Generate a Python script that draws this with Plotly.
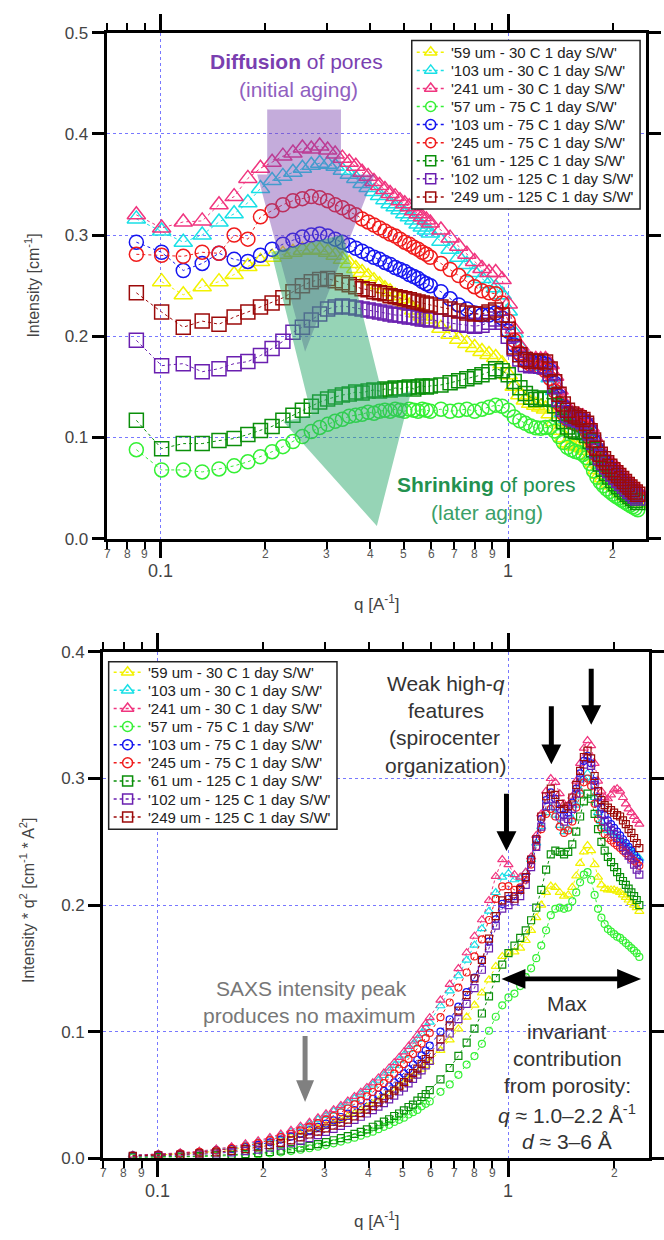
import numpy as np
import plotly.graph_objects as go

W, H = 664, 1240

# ---- scattering vector grids [1/A] ----
q_low = [0.085, 0.1005, 0.116, 0.1315, 0.147, 0.1625, 0.178, 0.1935, 0.209, 0.2245,
         0.240, 0.2555, 0.271, 0.2865, 0.302, 0.3175, 0.333, 0.3485, 0.364, 0.3795,
         0.395, 0.4105, 0.426, 0.4415, 0.457, 0.4725, 0.488, 0.5035, 0.519, 0.5345,
         0.550, 0.5655, 0.581, 0.5965, 0.64, 0.68, 0.72, 0.76, 0.80, 0.84, 0.88, 0.92, 0.96]
q_high = [1.00, 1.04, 1.08, 1.12, 1.16, 1.20, 1.24, 1.28, 1.32, 1.36, 1.40, 1.44, 1.48,
          1.52, 1.56, 1.60, 1.64, 1.68, 1.72, 1.76, 1.80, 1.84, 1.88, 1.92, 1.96, 2.00,
          2.04, 2.08, 2.12, 2.16, 2.20, 2.24, 2.28, 2.32, 2.36]

# ---- intensity I(q) [1/cm] for q < 1 ----
i_59um_30c = [None, 0.254, 0.241, 0.249, 0.254, 0.261, 0.269, 0.274, 0.278, 0.281,
              0.283, 0.285, 0.286, 0.285, 0.283, 0.280, 0.276, 0.272, 0.267, 0.263,
              0.259, 0.255, 0.251, 0.247, 0.244, 0.240, 0.237, 0.233, 0.230, 0.226,
              0.223, 0.220, 0.217, 0.214, 0.208, 0.202, 0.197, 0.193, 0.189, 0.185, 0.182, 0.179, 0.173]
i_103um_30c = [0.316, 0.304, 0.293, 0.300, 0.313, 0.321, 0.332, 0.346, 0.354, 0.358,
               0.362, 0.366, 0.369, 0.371, 0.370, 0.368, 0.364, 0.360, 0.356, 0.351,
               0.347, 0.343, 0.339, 0.335, 0.331, 0.328, 0.325, 0.321, 0.318, 0.315,
               0.311, 0.308, 0.305, 0.302, 0.294, 0.286, 0.278, 0.271, 0.263, 0.257, 0.252, 0.248, 0.241]
i_241um_30c = [0.320, 0.307, 0.313, 0.314, 0.330, 0.338, 0.356, 0.366, 0.372, 0.378,
               0.381, 0.386, 0.385, 0.388, 0.384, 0.380, 0.376, 0.372, 0.368, 0.362,
               0.358, 0.353, 0.349, 0.345, 0.341, 0.338, 0.334, 0.331, 0.328, 0.324,
               0.321, 0.318, 0.315, 0.312, 0.305, 0.297, 0.289, 0.281, 0.274, 0.267, 0.263, 0.263, 0.256]
i_57um_75c = [0.088, 0.068, 0.068, 0.066, 0.069, 0.072, 0.076, 0.081, 0.086, 0.091,
              0.096, 0.101, 0.106, 0.110, 0.113, 0.116, 0.118, 0.121, 0.122, 0.123,
              0.125, 0.124, 0.126, 0.127, 0.126, 0.128, 0.127, 0.126, 0.128, 0.127,
              0.126, 0.128, 0.127, 0.126, 0.128, 0.126, 0.127, 0.128, 0.126, 0.128, 0.130, 0.132, 0.131]
i_103um_75c = [0.293, 0.283, 0.265, 0.272, 0.282, 0.276, 0.274, 0.280, 0.286, 0.291,
               0.295, 0.298, 0.300, 0.301, 0.299, 0.296, 0.293, 0.290, 0.287, 0.284,
               0.281, 0.278, 0.276, 0.273, 0.271, 0.268, 0.266, 0.264, 0.261, 0.259,
               0.257, 0.254, 0.252, 0.250, 0.244, 0.237, 0.231, 0.227, 0.223, 0.221, 0.221, 0.223, 0.218]
i_245um_75c = [0.281, 0.280, 0.279, 0.283, 0.282, 0.300, 0.296, 0.318, 0.324, 0.330,
               0.334, 0.336, 0.338, 0.337, 0.334, 0.330, 0.327, 0.323, 0.320, 0.316,
               0.313, 0.310, 0.307, 0.304, 0.301, 0.299, 0.296, 0.293, 0.291, 0.288,
               0.286, 0.283, 0.281, 0.278, 0.272, 0.266, 0.260, 0.254, 0.249, 0.245, 0.243, 0.242, 0.233]
i_61um_125c = [0.117, 0.089, 0.094, 0.094, 0.097, 0.099, 0.103, 0.107, 0.111, 0.117,
               0.122, 0.127, 0.131, 0.135, 0.138, 0.140, 0.142, 0.143, 0.145, 0.144,
               0.146, 0.147, 0.146, 0.148, 0.147, 0.149, 0.148, 0.149, 0.150, 0.148,
               0.150, 0.151, 0.150, 0.151, 0.152, 0.154, 0.156, 0.158, 0.160, 0.162, 0.165, 0.168, 0.166]
i_102um_125c = [0.196, 0.171, 0.173, 0.165, 0.168, 0.173, 0.175, 0.181, 0.188, 0.195,
                0.204, 0.209, 0.216, 0.222, 0.227, 0.229, 0.230, 0.229, 0.228, 0.227,
                0.226, 0.225, 0.224, 0.223, 0.222, 0.221, 0.221, 0.220, 0.219, 0.219,
                0.218, 0.217, 0.217, 0.216, 0.215, 0.213, 0.212, 0.211, 0.210, 0.211, 0.214, 0.217, 0.214]
i_249um_125c = [0.243, 0.224, 0.209, 0.215, 0.212, 0.219, 0.224, 0.229, 0.233, 0.238,
                0.244, 0.250, 0.254, 0.256, 0.257, 0.255, 0.253, 0.251, 0.249, 0.247,
                0.246, 0.244, 0.243, 0.242, 0.240, 0.239, 0.238, 0.237, 0.236, 0.235,
                0.234, 0.233, 0.232, 0.231, 0.229, 0.227, 0.225, 0.223, 0.222, 0.222, 0.224, 0.226, 0.221]

# ---- Kratky values I*q^2 [1/cm * 1/A^2] for q >= 1 ----
k_59um_30c = [0.162, 0.163, 0.166, 0.172, 0.180, 0.190, 0.200, 0.210, 0.215, 0.214, 0.210, 0.207,
              0.208, 0.214, 0.223, 0.233, 0.242, 0.247, 0.243, 0.232, 0.222, 0.216, 0.213, 0.212,
              0.212, 0.212, 0.211, 0.210, 0.208, 0.206, 0.204, 0.202, 0.200, 0.198, 0.195]
k_103um_30c = [0.225, 0.220, 0.221, 0.226, 0.236, 0.249, 0.262, 0.273, 0.277, 0.271, 0.263, 0.258,
               0.260, 0.268, 0.279, 0.290, 0.300, 0.304, 0.298, 0.285, 0.273, 0.266, 0.262, 0.259,
               0.257, 0.255, 0.253, 0.251, 0.249, 0.247, 0.245, 0.243, 0.241, 0.239, 0.237]
k_241um_30c = [0.232, 0.224, 0.222, 0.226, 0.238, 0.255, 0.272, 0.290, 0.300, 0.297, 0.288, 0.280,
               0.279, 0.286, 0.298, 0.312, 0.324, 0.330, 0.326, 0.312, 0.298, 0.290, 0.285, 0.284,
               0.287, 0.291, 0.292, 0.290, 0.285, 0.280, 0.276, 0.273, 0.270, 0.267, 0.264]
k_57um_75c = [0.127, 0.130, 0.136, 0.143, 0.150, 0.158, 0.168, 0.180, 0.192, 0.197, 0.198, 0.197,
              0.198, 0.203, 0.210, 0.218, 0.224, 0.226, 0.220, 0.208, 0.197, 0.190, 0.185, 0.181,
              0.179, 0.177, 0.175, 0.174, 0.172, 0.170, 0.168, 0.166, 0.164, 0.162, 0.159]
k_103um_75c = [0.205, 0.207, 0.213, 0.222, 0.236, 0.252, 0.268, 0.283, 0.289, 0.284, 0.276, 0.271,
               0.273, 0.281, 0.292, 0.304, 0.314, 0.318, 0.312, 0.298, 0.285, 0.277, 0.271, 0.267,
               0.264, 0.261, 0.258, 0.255, 0.252, 0.249, 0.246, 0.243, 0.240, 0.237, 0.234]
k_245um_75c = [0.215, 0.212, 0.214, 0.220, 0.232, 0.246, 0.260, 0.272, 0.276, 0.270, 0.262, 0.257,
               0.259, 0.266, 0.277, 0.288, 0.297, 0.300, 0.294, 0.280, 0.268, 0.261, 0.256, 0.253,
               0.251, 0.249, 0.247, 0.245, 0.243, 0.241, 0.239, 0.237, 0.235, 0.233, 0.231]
k_61um_125c = [0.162, 0.168, 0.174, 0.180, 0.188, 0.198, 0.212, 0.228, 0.240, 0.243, 0.242, 0.240,
               0.242, 0.248, 0.258, 0.270, 0.282, 0.288, 0.284, 0.272, 0.260, 0.250, 0.243, 0.238,
               0.234, 0.230, 0.226, 0.222, 0.219, 0.216, 0.213, 0.210, 0.207, 0.204, 0.200]
k_102um_125c = [0.200, 0.203, 0.207, 0.216, 0.230, 0.246, 0.262, 0.278, 0.284, 0.278, 0.270, 0.266,
                0.268, 0.276, 0.288, 0.300, 0.311, 0.316, 0.310, 0.295, 0.281, 0.272, 0.266, 0.262,
                0.259, 0.256, 0.253, 0.250, 0.246, 0.243, 0.239, 0.236, 0.232, 0.228, 0.224]
k_249um_125c = [0.207, 0.205, 0.212, 0.222, 0.236, 0.252, 0.270, 0.286, 0.292, 0.287, 0.280, 0.276,
                0.278, 0.285, 0.295, 0.306, 0.317, 0.322, 0.316, 0.302, 0.290, 0.283, 0.279, 0.277,
                0.275, 0.273, 0.271, 0.270, 0.267, 0.264, 0.260, 0.257, 0.253, 0.249, 0.245]

sample_names = ["'59 um - 30 C 1 day S/W'", "'103 um - 30 C 1 day S/W'", "'241 um - 30 C 1 day S/W'",
                "'57 um - 75 C 1 day S/W'", "'103 um - 75 C 1 day S/W'", "'245 um - 75 C 1 day S/W'",
                "'61 um - 125 C 1 day S/W'", "'102 um - 125 C 1 day S/W'", "'249 um - 125 C 1 day S/W'"]
low_sets = [i_59um_30c, i_103um_30c, i_241um_30c, i_57um_75c, i_103um_75c, i_245um_75c,
            i_61um_125c, i_102um_125c, i_249um_125c]
high_sets = [k_59um_30c, k_103um_30c, k_241um_30c, k_57um_75c, k_103um_75c, k_245um_75c,
             k_61um_125c, k_102um_125c, k_249um_125c]

x_major = [0.1, 1]
x_major_labels = ["0.1", "1"]
x_minor = [0.07, 0.08, 0.09, 0.2, 0.3, 0.4, 0.5, 0.6, 0.7, 0.8, 0.9, 2]
x_minor_labels = ["7", "8", "9", "2", "3", "4", "5", "6", "7", "8", "9", "2"]

colors = ["#f2f200", "#19e0e6", "#f0357f", "#35f035", "#1515f0", "#f01c1c",
          "#0a8f0a", "#6a1fb0", "#9c0a0a"]
symbols = ["triangle-up-open"] * 3 + ["circle-open"] * 3 + ["square-open"] * 3

FONT = "Liberation Sans, Arial, sans-serif"

q_all = np.array(q_low + q_high)
qh = np.array(q_high)

fig = go.Figure()
for name, lo, hi, col, sym in zip(sample_names, low_sets, high_sets, colors, symbols):
    assert len(lo) == len(q_low) and len(hi) == len(q_high)
    lo_arr = np.array([np.nan if v is None else v for v in lo], dtype=float)
    intensity = np.concatenate([lo_arr, np.array(hi) / qh ** 2])
    kratky = intensity * q_all ** 2
    big = 16 if sym.startswith("triangle") else 14
    small = 8 if sym.startswith("triangle") else 7
    fig.add_trace(go.Scatter(
        x=q_all, y=intensity, mode="lines+markers", name=name, showlegend=False,
        line=dict(color=col, width=1, dash="dot"),
        marker=dict(symbol=sym, size=big, color=col, line=dict(width=1.5, color=col)),
        xaxis="x", yaxis="y"))
    fig.add_trace(go.Scatter(
        x=q_all, y=kratky, mode="lines+markers", name=name, showlegend=False,
        line=dict(color=col, width=1, dash="dot"),
        marker=dict(symbol=sym, size=small, color=col, line=dict(width=1.2, color=col)),
        xaxis="x2", yaxis="y2"))


def px(x):
    return x / W


def py(y):
    return 1 - y / H


def poly(points):
    return "M " + " L ".join(f"{px(a):.5f},{py(b):.5f}" for a, b in points) + " Z"


def down_arrow(x, y0, y1, shaft=5, hw=20, hl=20):
    return poly([(x - shaft / 2, y0), (x + shaft / 2, y0), (x + shaft / 2, y1 - hl),
                 (x + hw / 2, y1 - hl), (x, y1), (x - hw / 2, y1 - hl), (x - shaft / 2, y1 - hl)])


def double_arrow(x0, x1, y, shaft=5, hw=20, hl=24):
    return poly([(x0, y), (x0 + hl, y - hw / 2), (x0 + hl, y - shaft / 2), (x1 - hl, y - shaft / 2),
                 (x1 - hl, y - hw / 2), (x1, y), (x1 - hl, y + hw / 2), (x1 - hl, y + shaft / 2),
                 (x0 + hl, y + shaft / 2), (x0 + hl, y + hw / 2)])


shapes = []
ann = []

# translucent guide arrows on the upper panel
shapes.append(dict(type="path", xref="paper", yref="paper", layer="above", line=dict(width=0),
                   fillcolor="rgba(125,70,175,0.45)",
                   path=poly([(268, 102), (342, 102), (342, 168), (376, 168), (306, 348),
                              (258, 168), (268, 168)])))
tip = np.array([378.0, 525.0])
start = np.array([308.0, 238.0])
u = (tip - start) / np.linalg.norm(tip - start)
n = np.array([u[1], -u[0]])
base = tip - 125 * u
g_pts = [start - 37 * n, start + 37 * n, base + 37 * n, base + 66 * n, tip, base - 66 * n, base - 37 * n]
shapes.append(dict(type="path", xref="paper", yref="paper", layer="above", line=dict(width=0),
                   fillcolor="rgba(45,170,110,0.5)", path=poly([tuple(p) for p in g_pts])))
# black markers of the high-q features on the lower panel
for ax_x, a0, a1 in [(508, 797, 855), (553, 708, 767), (593, 670, 727)]:
    shapes.append(dict(type="path", xref="paper", yref="paper", layer="above", line=dict(width=0),
                       fillcolor="black", path=down_arrow(ax_x, a0, a1)))
shapes.append(dict(type="path", xref="paper", yref="paper", layer="above", line=dict(width=0),
                   fillcolor="#808080", path=down_arrow(306, 1043, 1110, shaft=5, hw=18, hl=22)))
shapes.append(dict(type="path", xref="paper", yref="paper", layer="above", line=dict(width=0),
                   fillcolor="black", path=double_arrow(503, 643, 985)))


# ---- legends: boxed key with dotted sample line, symbol and label ----
def legend_block(left, top, right, bottom, first_row, step):
    shapes.append(dict(type="rect", xref="x3", yref="y3", layer="below", x0=left, x1=right,
                       y0=top, y1=bottom, fillcolor="white", line=dict(color="#222222", width=1.5)))
    for i, (name, col, sym) in enumerate(zip(sample_names, colors, symbols)):
        yc = first_row + i * step
        shapes.append(dict(type="line", xref="paper", yref="paper", layer="above",
                           x0=px(left + 5), x1=px(left + 34), y0=py(yc), y1=py(yc),
                           line=dict(color=col, width=1.5, dash="dot")))
        fig.add_trace(go.Scatter(x=[left + 19], y=[yc], mode="markers", showlegend=False,
                                 marker=dict(symbol=sym, size=11 if sym.startswith("tri") else 10,
                                             color=col, line=dict(width=1.5, color=col)),
                                 xaxis="x3", yaxis="y3", hoverinfo="skip"))
        ann.append(dict(xref="paper", yref="paper", x=px(left + 37), y=py(yc), text=name,
                        showarrow=False, xanchor="left", yanchor="middle",
                        font=dict(family=FONT, size=15, color="#222222")))


legend_block(413, 32, 642, 203, 44, 18.35)
legend_block(109, 663, 338, 833, 673.5, 18.4)


def text(x, y, s, size=21, color="#333333", anchor="center"):
    ann.append(dict(xref="paper", yref="paper", x=px(x), y=py(y), text=s, showarrow=False,
                    xanchor=anchor, yanchor="middle", font=dict(family=FONT, size=size, color=color)))


# axis tick labels (major and minor) for both panels
for xa, axis_y in [("x", 538), ("x2", 1167)]:
    for v, lab in zip(x_minor, x_minor_labels):
        ann.append(dict(xref=xa, yref="paper", x=np.log10(v), y=py(axis_y + 15), text=lab,
                        showarrow=False, xanchor="center", yanchor="middle",
                        font=dict(family=FONT, size=12, color="#555555")))
    for v, lab in zip(x_major, x_major_labels):
        ann.append(dict(xref=xa, yref="paper", x=np.log10(v), y=py(axis_y + 33), text=lab,
                        showarrow=False, xanchor="center", yanchor="middle",
                        font=dict(family=FONT, size=18, color="#444444")))

text(378, 603, "q [A<sup>-1</sup>]", 17, "#444444")
text(378, 1230, "q [A<sup>-1</sup>]", 17, "#444444")
ann.append(dict(xref="paper", yref="paper", x=px(32), y=py(281), text="Intensity [cm<sup>-1</sup>]",
                textangle=-90, showarrow=False, xanchor="center", yanchor="middle",
                font=dict(family=FONT, size=16, color="#444444")))
ann.append(dict(xref="paper", yref="paper", x=px(27), y=py(905),
                text="Intensity * q<sup>2</sup> [cm<sup>-1</sup> * A<sup>2</sup>]",
                textangle=-90, showarrow=False, xanchor="center", yanchor="middle",
                font=dict(family=FONT, size=16, color="#444444")))

text(297, 53, "<b>Diffusion</b> of pores", 21, "#7a3fb0")
text(299, 82, "(initial aging)", 21, "#9060c0")
text(488, 483, "<b>Shrinking</b> of pores", 21, "#23914f")
text(488, 511, "(later aging)", 21, "#3a9f68")

text(447, 685, "Weak high-<i>q</i>", 21)
text(447, 712, "features", 21)
text(446, 740, "(spirocenter", 21)
text(447, 768, "organization)", 21)

text(312, 995, "SAXS intensity peak", 21, "#777777")
text(310, 1022, "produces no maximum", 21, "#777777")

text(569, 1010, "Max", 21)
text(569, 1038, "invariant", 21)
text(569, 1066, "contribution", 21)
text(569, 1093, "from porosity:", 21)
text(569, 1122, "<i>q</i> ≈ 1.0–2.2 Å<sup>-1</sup>", 21)
text(569, 1150, "<i>d</i> ≈ 3–6 Å", 21)


def xaxis(domain, rng, anchor):
    return dict(type="log", domain=domain, range=rng, anchor=anchor,
                tickmode="array", tickvals=x_major, showticklabels=False,
                ticks="outside", ticklen=16, tickwidth=2.5, tickcolor="black",
                minor=dict(tickmode="array", tickvals=x_minor, ticks="outside", ticklen=7,
                           tickwidth=2, tickcolor="black", showgrid=False),
                showline=True, linewidth=2.5, linecolor="black", mirror="ticks",
                showgrid=True, gridcolor="#7878ff", griddash="dot", gridwidth=1, zeroline=False)


def yaxis(domain, rng, anchor, vals):
    return dict(domain=domain, range=rng, anchor=anchor, tickmode="array", tickvals=vals,
                ticktext=[f"{v:.1f}" for v in vals], ticks="outside", ticklen=12, tickwidth=2.5,
                tickcolor="black", tickfont=dict(family=FONT, size=17, color="#444444"),
                showline=True, linewidth=3, linecolor="black", mirror="ticks",
                showgrid=True, gridcolor="#7878ff", griddash="dot", gridwidth=1, zeroline=False)


fig.update_layout(
    width=W, height=H, margin=dict(l=0, r=0, t=0, b=0),
    paper_bgcolor="white", plot_bgcolor="rgba(0,0,0,0)",
    xaxis=xaxis([107 / W, 648 / W], [-1.156, 0.3966], "y"),
    yaxis=yaxis([1 - 538 / H, 1 - 24 / H], [0, 0.5], "x", [0, 0.1, 0.2, 0.3, 0.4, 0.5]),
    xaxis2=xaxis([103.5 / W, 651 / W], [-1.155, 0.4006], "y2"),
    yaxis2=yaxis([1 - 1167 / H, 1 - 653 / H], [0, 0.4], "x2", [0, 0.1, 0.2, 0.3, 0.4]),
    # overlay frame in page pixels, used to place the legend keys
    xaxis3=dict(domain=[0, 1], range=[0, W], visible=False, fixedrange=True, anchor="y3"),
    yaxis3=dict(domain=[0, 1], range=[H, 0], visible=False, fixedrange=True, anchor="x3"),
    shapes=shapes, annotations=ann, showlegend=False,
    font=dict(family=FONT),
)

fig.write_html("out.html")
